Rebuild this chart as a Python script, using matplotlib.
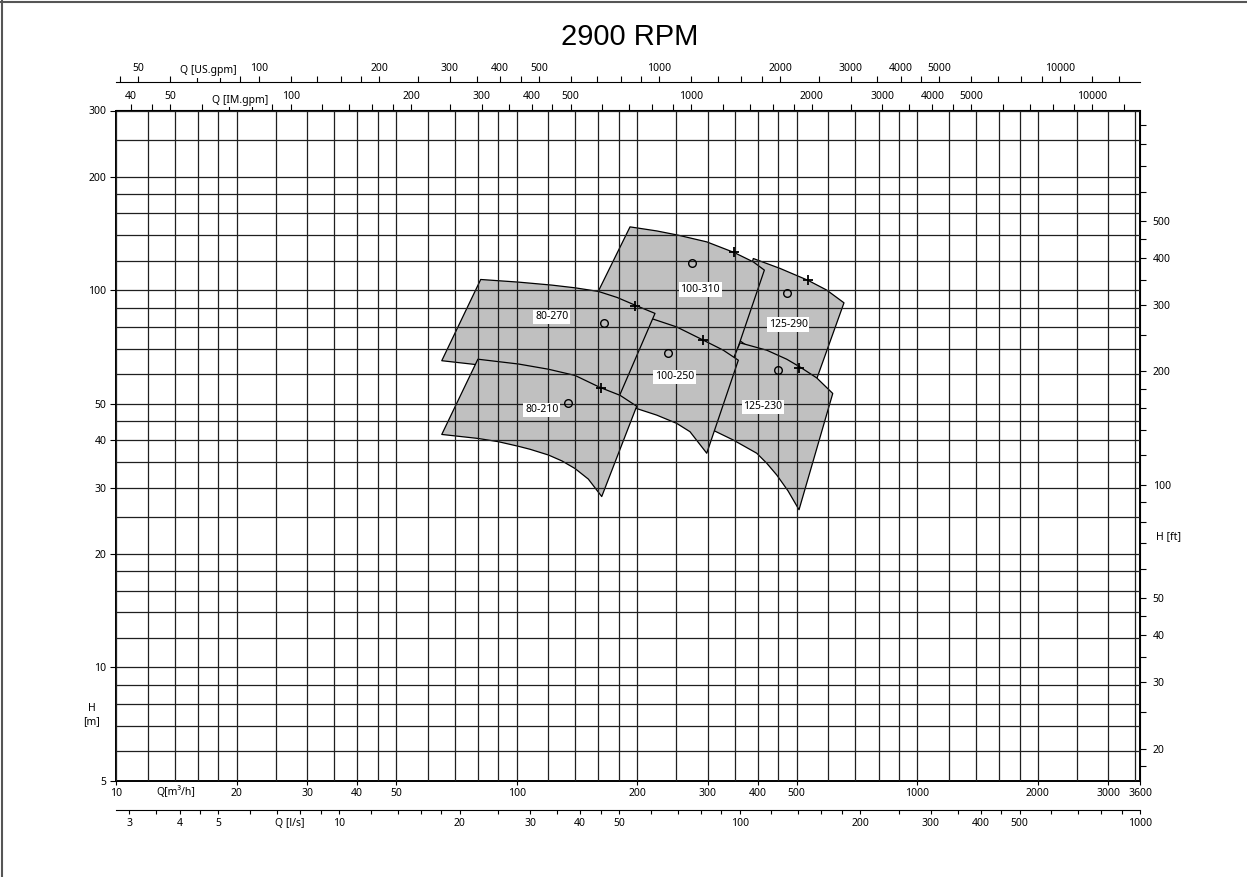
import matplotlib.pyplot as plt
import numpy as np
from matplotlib.ticker import FixedLocator, NullFormatter
from matplotlib.lines import Line2D

plt.rcParams['font.family'] = ['Noto Sans', 'DejaVu Sans']

# grid / minor tick pattern inside one decade
steps = [1, 1.2, 1.4, 1.6, 1.8, 2, 2.5, 3, 3.5, 4, 4.5, 5, 6, 7, 8, 9]

q_min, q_max = 10, 3600   # m3/h
h_min, h_max = 5, 300     # m

q_labels = [10, 20, 30, 40, 50, 100, 200, 300, 400, 500, 1000, 2000, 3000, 3600]
h_labels = [5, 10, 20, 30, 40, 50, 100, 200, 300]
us_labels = [50, 100, 200, 300, 400, 500, 1000, 2000, 3000, 4000, 5000, 10000]
im_labels = [40, 50, 100, 200, 300, 400, 500, 1000, 2000, 3000, 4000, 5000, 10000]
ls_labels = [3, 4, 5, 10, 20, 30, 40, 50, 100, 200, 300, 400, 500, 1000]
ft_labels = [20, 30, 40, 50, 100, 200, 300, 400, 500]

# unit conversion factors from m3/h and m
US_GPM = 4.40287
IM_GPM = 3.66615
LS = 1 / 3.6
FT = 3.28084

# pump families, drawn bottom -> top
names = ['125-290', '100-310', '125-230', '100-250', '80-270', '80-210']

q_top = [[389.6, 454, 533, 594, 656],
         [191.8, 223.6, 253.1, 298.1, 348.6, 389.6, 415.1],
         [361, 421, 472, 510, 561, 615],
         [161.4, 219.3, 250.8, 292.3, 327.9, 357.4],
         [81.3, 101, 122.3, 139.8, 159.8, 178, 197.4, 221.4],
         [80, 101, 120, 139.8, 161.4, 181.1, 199.3]]
h_top = [[121.5, 114.4, 106.4, 100.2, 92.7],
         [147.4, 143.8, 140.1, 134.5, 126.1, 119.0, 113.2],
         [72.6, 69.4, 65.7, 62.6, 58.6, 53.3],
         [90.3, 83.9, 80.0, 73.8, 69.4, 65.3],
         [106.9, 105.2, 103.3, 101.6, 99.4, 95.8, 91.4, 86.9],
         [65.7, 63.8, 61.8, 59.5, 55.3, 52.7, 49.3]]
q_bot = [[345, 405, 481, 540],
         [148.1, 215.2, 286.8, 344.7],
         [295.2, 311.7, 347.3, 397.3, 420.9, 445.7, 475.6, 506.6],
         [131.9, 161.4, 199.3, 223.6, 250.8, 270.7, 298.1],
         [65.0, 81.0, 108.0, 143.9, 172.9],
         [65, 80, 90, 101, 108, 120, 129.7, 139.8, 150.9, 163]]
h_bot = [[76.1, 67.3, 60.7, 52.1],
         [84.4, 78.5, 71.6, 63.4],
         [43.9, 42.4, 40.1, 37.0, 34.8, 32.4, 29.4, 26.2],
         [51.2, 49.6, 48.6, 46.7, 44.4, 42.2, 37.0],
         [65.1, 63.4, 59.6, 53.7, 47.3],
         [41.5, 40.5, 39.7, 38.6, 37.9, 36.6, 35.3, 33.7, 31.6, 28.4]]

# best efficiency points (o) and rated points (+)
q_bep = [473.7, 274.4, 449.8, 238.6, 165.5, 134.5]
h_bep = [98.2, 117.9, 61.5, 68.1, 82.2, 50.2]
q_pt = [532.6, 348.6, 507.4, 292.3, 197.4, 162.1]
h_pt = [106.4, 126.1, 62.3, 73.8, 91.0, 55.0]

# label anchors
q_lab = [476.4, 286.8, 411.3, 247.4, 122.3, 115.5]
h_lab = [81.2, 100.6, 49.1, 59.0, 85.1, 48.2]


def decade_values(lo, hi):
    vals = []
    for e in range(-1, 6):
        for s in steps:
            v = s * 10 ** e
            if lo * 0.999 <= v <= hi * 1.001:
                vals.append(round(v, 6))
    return vals


W, H = 1247, 877
fig = plt.figure(figsize=(W / 100, H / 100), dpi=100)
ax_l, ax_r, ax_t, ax_b = 116.1, 1140.2, 110.5, 781.0
ax = fig.add_axes([ax_l / W, 1 - ax_b / H, (ax_r - ax_l) / W, (ax_b - ax_t) / H])
ax.set_xscale('log')
ax.set_yscale('log')
ax.set_xlim(q_min, q_max)
ax.set_ylim(h_min, h_max)
ax.set_axisbelow(False)

# shaded families
for i, name in enumerate(names):
    xs = list(q_top[i]) + list(q_bot[i])[::-1]
    ys = list(h_top[i]) + list(h_bot[i])[::-1]
    ax.fill(xs, ys, facecolor='#c0c0c0', edgecolor='black', linewidth=0.9,
            joinstyle='round', zorder=1 + i * 0.01)

ax.plot(q_bep, h_bep, 'o', mfc='none', mec='black', ms=5.5, mew=1.0, zorder=3)
ax.plot(q_pt, h_pt, '+', color='black', ms=7, mew=1.3, zorder=3)
for i, name in enumerate(names):
    ax.text(q_lab[i], h_lab[i], name, ha='center', va='center', fontsize=7.5,
            bbox=dict(fc='white', ec='none', pad=1.2), zorder=4)

# main axes ticks and grid
ax.xaxis.set_major_locator(FixedLocator(q_labels))
ax.xaxis.set_minor_locator(FixedLocator(decade_values(q_min, q_max)))
ax.set_xticklabels([str(v) for v in q_labels])
ax.xaxis.set_minor_formatter(NullFormatter())
ax.yaxis.set_major_locator(FixedLocator(h_labels))
ax.yaxis.set_minor_locator(FixedLocator(decade_values(h_min, h_max)))
ax.set_yticklabels([str(v) for v in h_labels])
ax.yaxis.set_minor_formatter(NullFormatter())
ax.grid(True, which='both', color='0.12', linewidth=0.9)
ax.tick_params(axis='x', which='major', direction='out', length=3, width=0.8,
               labelsize=7.5, pad=2)
ax.tick_params(axis='y', which='major', direction='out', length=4, width=0.8,
               labelsize=7.5, pad=3)
ax.tick_params(which='minor', length=0)
for sp in ax.spines.values():
    sp.set_linewidth(1.4)

axis_h = ax_b - ax_t

# top: US gpm
sec_us = ax.secondary_xaxis(1 + (ax_t - 82) / axis_h,
                            functions=(lambda q: q * US_GPM, lambda g: g / US_GPM))
sec_us.set_xticks(us_labels, labels=[str(v) for v in us_labels])
sec_us.xaxis.set_minor_locator(FixedLocator(decade_values(q_min * US_GPM, q_max * US_GPM)))
sec_us.xaxis.set_minor_formatter(NullFormatter())
sec_us.tick_params(which='both', direction='out', length=4, width=0.8, labelsize=7.5, pad=2)

# top: IM gpm
sec_im = ax.secondary_xaxis('top',
                            functions=(lambda q: q * IM_GPM, lambda g: g / IM_GPM))
sec_im.set_xticks(im_labels, labels=[str(v) for v in im_labels])
sec_im.xaxis.set_minor_locator(FixedLocator(decade_values(q_min * IM_GPM, q_max * IM_GPM)))
sec_im.xaxis.set_minor_formatter(NullFormatter())
sec_im.tick_params(which='both', direction='out', length=4, width=0.8, labelsize=7.5, pad=2)

# bottom: l/s
sec_ls = ax.secondary_xaxis(-(810 - ax_b) / axis_h,
                            functions=(lambda q: q * LS, lambda l: l / LS))
sec_ls.set_xticks(ls_labels, labels=[str(v) for v in ls_labels])
sec_ls.xaxis.set_minor_locator(FixedLocator(decade_values(q_min * LS, q_max * LS)))
sec_ls.xaxis.set_minor_formatter(NullFormatter())
sec_ls.tick_params(which='both', direction='out', length=3, width=0.8, labelsize=7.5, pad=3)

# right: H ft
sec_ft = ax.secondary_yaxis('right',
                            functions=(lambda h: h * FT, lambda f: f / FT))
sec_ft.set_yticks(ft_labels, labels=[str(v) for v in ft_labels])
sec_ft.yaxis.set_minor_locator(FixedLocator(decade_values(h_min * FT, h_max * FT)))
sec_ft.yaxis.set_minor_formatter(NullFormatter())
sec_ft.tick_params(which='both', direction='out', length=4, width=0.8, labelsize=7.5, pad=5)

# axis captions
fig.text(630 / W, 1 - 37 / H, '2900 RPM', ha='center', va='center', fontsize=21,
         family=['Liberation Sans', 'DejaVu Sans'])
fig.text(208 / W, 1 - 71 / H, 'Q [US.gpm]', ha='center', va='center', fontsize=7.5,
         bbox=dict(fc='white', ec='none', pad=1))
fig.text(240 / W, 1 - 100 / H, 'Q [IM.gpm]', ha='center', va='center', fontsize=7.5,
         bbox=dict(fc='white', ec='none', pad=1))
fig.text(176 / W, 1 - 792 / H, 'Q[m³/h]', ha='center', va='center', fontsize=7.5,
         fontweight='bold')
fig.text(290 / W, 1 - 823 / H, 'Q [l/s]', ha='center', va='center', fontsize=7.5)
fig.text(92 / W, 1 - 715 / H, 'H\n[m]', ha='center', va='center', fontsize=7.5,
         fontweight='bold', linespacing=1.3)
fig.text(1168 / W, 1 - 537 / H, 'H [ft]', ha='center', va='center', fontsize=7.5)

# page border (top and left)
fig.add_artist(Line2D([0, 1], [1 - 2 / H, 1 - 2 / H], transform=fig.transFigure,
                      color='#555555', linewidth=1.5))
fig.add_artist(Line2D([2 / W, 2 / W], [0, 1], transform=fig.transFigure,
                      color='#555555', linewidth=1.5))

fig.savefig('out.png', dpi=100)
